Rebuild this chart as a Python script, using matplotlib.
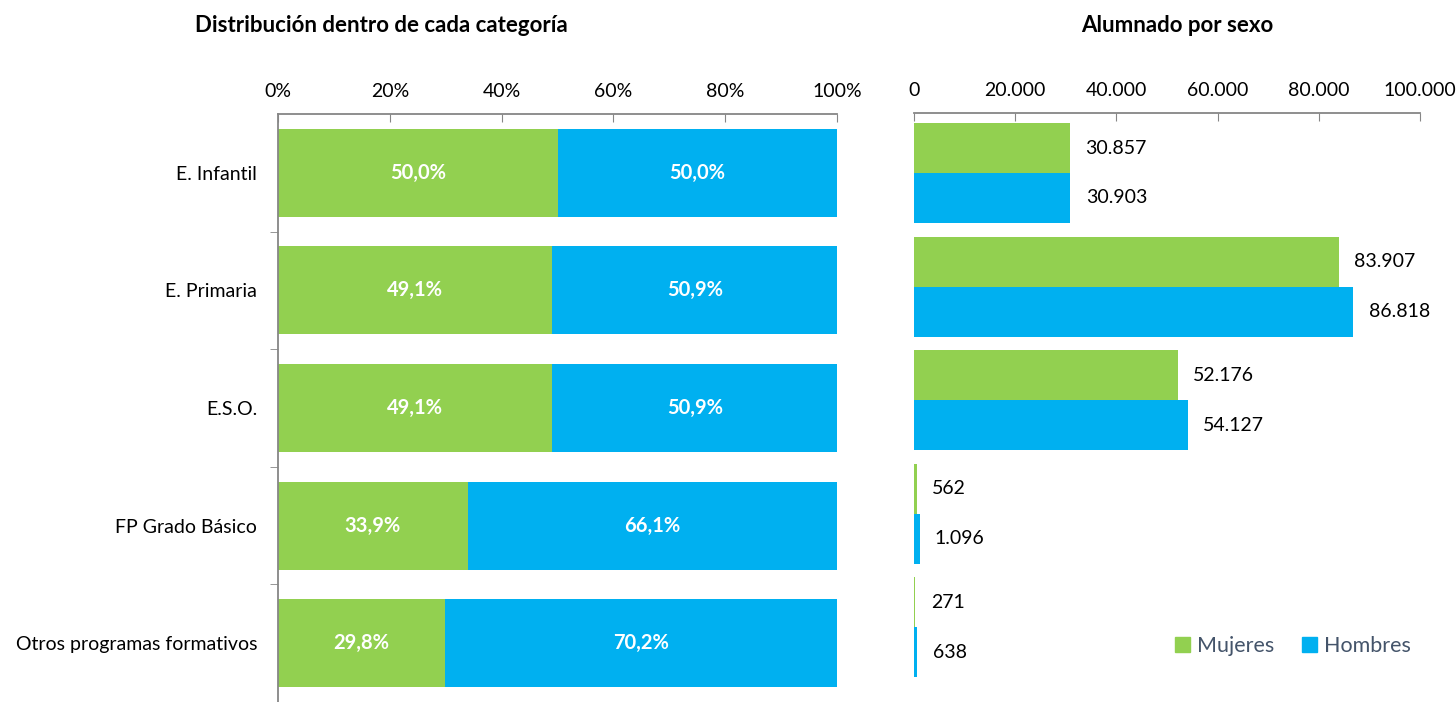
import matplotlib
matplotlib.use("Agg")
import matplotlib.pyplot as plt
from matplotlib.patches import Patch
import numpy as np

plt.rcParams['font.family'] = ['Lato', 'DejaVu Sans']

categories = ["E. Infantil", "E. Primaria", "E.S.O.", "FP Grado Básico", "Otros programas formativos"]
pct_mujeres = [50.0, 49.1, 49.1, 33.9, 29.8]
pct_hombres = [50.0, 50.9, 50.9, 66.1, 70.2]
n_mujeres = [30857, 83907, 52176, 562, 271]
n_hombres = [30903, 86818, 54127, 1096, 638]
pct_ticks = [0, 20, 40, 60, 80, 100]
num_ticks = [0, 20000, 40000, 60000, 80000, 100000]

GREEN = "#92D050"
BLUE = "#00B0F0"
GRAY = "#868686"
W, H = 1456, 702
FS = 14

fig = plt.figure(figsize=(W / 100, H / 100), dpi=100)

def fx(px):
    return px / W

def fy(py):
    return 1 - py / H

def pct_fmt(v):
    return f"{v:.1f}".replace(".", ",") + "%"

def num_fmt(v):
    return f"{v:,}".replace(",", ".")

# ---- Left chart ----
ax1 = fig.add_axes([fx(278), fy(702), fx(837 - 278), fy(114) - fy(702)])
y = np.arange(len(categories))
ax1.barh(y, pct_mujeres, height=0.75, color=GREEN)
ax1.barh(y, pct_hombres, left=pct_mujeres, height=0.75, color=BLUE)
ax1.set_xlim(0, 100)
ax1.set_ylim(-0.5 + (702 - 114) / 118.4, -0.5)
ax1.set_yticks(y)
ax1.set_yticklabels(categories, fontsize=FS)
ax1.set_yticks(np.arange(0.5, len(categories) - 0.4, 1), minor=True)
ax1.tick_params(axis='y', which='major', length=0, pad=15)
ax1.tick_params(axis='y', which='minor', length=6, color=GRAY, direction='out')
ax1.xaxis.tick_top()
ax1.set_xticks(pct_ticks)
ax1.set_xticklabels([f"{t}%" for t in pct_ticks], fontsize=FS)
ax1.tick_params(axis='x', length=6, color=GRAY, direction='in', pad=10)
for s in ['right', 'bottom']:
    ax1.spines[s].set_visible(False)
for s in ['top', 'left']:
    ax1.spines[s].set_color(GRAY)
    ax1.spines[s].set_linewidth(1.3)
for i in range(len(categories)):
    ax1.text(pct_mujeres[i] / 2, i, pct_fmt(pct_mujeres[i]), ha='center', va='center',
             color='white', fontsize=14.5, fontweight='bold')
    ax1.text(pct_mujeres[i] + pct_hombres[i] / 2, i, pct_fmt(pct_hombres[i]), ha='center',
             va='center', color='white', fontsize=14.5, fontweight='bold')
fig.text(fx(381), fy(25), "Distribución dentro de cada categoría", ha='center', va='center',
         fontsize=16, fontweight='bold')

# ---- Right chart ----
ax2 = fig.add_axes([fx(914), 0, fx(1420 - 914), fy(113)])
yc = np.arange(len(categories))
bh = 0.44
ax2.barh(yc - bh / 2, n_mujeres, height=bh, color=GREEN)
ax2.barh(yc + bh / 2, n_hombres, height=bh, color=BLUE)
ax2.set_xlim(0, 100000)
top_off = (173 - 113) / 113.6
ax2.set_ylim((702 - 173) / 113.6, -top_off)
ax2.set_yticks([])
ax2.xaxis.tick_top()
ax2.set_xticks(num_ticks)
ax2.set_xticklabels([num_fmt(t) for t in num_ticks], fontsize=FS)
ax2.tick_params(axis='x', length=6, color=GRAY, direction='in', pad=10)
for s in ['right', 'bottom', 'left']:
    ax2.spines[s].set_visible(False)
ax2.spines['top'].set_color(GRAY)
ax2.spines['top'].set_linewidth(1.3)
for i in range(len(categories)):
    ax2.annotate(num_fmt(n_mujeres[i]), (n_mujeres[i], i - bh / 2), xytext=(11, 0),
                 textcoords='offset points', ha='left', va='center', fontsize=FS)
    ax2.annotate(num_fmt(n_hombres[i]), (n_hombres[i], i + bh / 2), xytext=(11, 0),
                 textcoords='offset points', ha='left', va='center', fontsize=FS)
fig.text(fx(1177), fy(25), "Alumnado por sexo", ha='center', va='center',
         fontsize=16, fontweight='bold')

handles = [Patch(color=GREEN, label="Mujeres"), Patch(color=BLUE, label="Hombres")]
leg = fig.legend(handles=handles, loc='center', bbox_to_anchor=(fx(1293), fy(646)), ncol=2,
                 frameon=False, fontsize=15.5, handlelength=0.7, handleheight=0.7,
                 handletextpad=0.3, columnspacing=1.3)
for t in leg.get_texts():
    t.set_color("#44546A")

fig.savefig("out.png", dpi=100)
